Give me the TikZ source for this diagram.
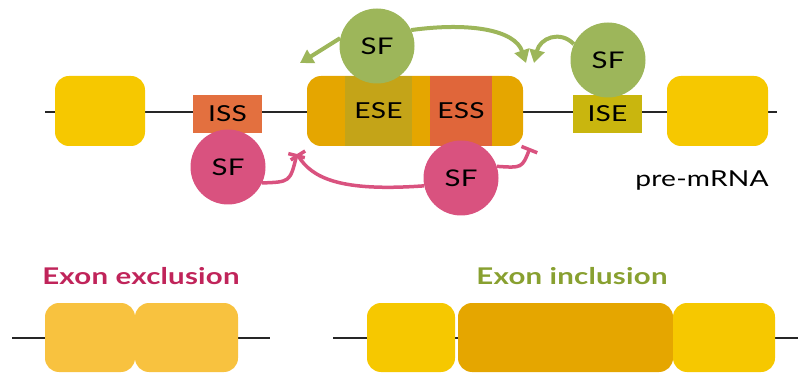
\documentclass[tikz,border=0pt]{standalone}
\usepackage{fontspec}
\setmainfont{Lato}[FakeStretch=1.28,LetterSpace=1]
\usepackage{tikz}
\usetikzlibrary{positioning,arrows.meta,calc}

\definecolor{exonyel}{HTML}{F6C800}
\definecolor{exongold}{HTML}{E5A600}
\definecolor{exonpale}{HTML}{F8C23F}
\definecolor{esecol}{HTML}{C4A418}
\definecolor{esscol}{HTML}{E0663A}
\definecolor{isscol}{HTML}{E3703F}
\definecolor{isecol}{HTML}{C9B60E}
\definecolor{sfgreen}{HTML}{9DB65A}
\definecolor{sfpink}{HTML}{D9527F}
\definecolor{pinklab}{HTML}{C0245A}
\definecolor{greenlab}{HTML}{88A030}

\begin{document}
\begin{tikzpicture}[x=1pt,y=-1pt,
    exon/.style={fill=exonyel, rounded corners=14pt, minimum height=70pt, inner sep=0pt},
    band/.style={minimum height=70pt, inner sep=0pt, font=\fontsize{22}{22}\selectfont},
    site/.style={minimum height=38pt, inner sep=0pt, font=\fontsize{22}{22}\selectfont},
    sf/.style={circle, minimum size=75pt, inner sep=0pt, font=\fontsize{23}{23}\selectfont},
    intron/.style={line width=2.2pt, black!85},
    enh/.style={sfgreen, line width=4pt, -{Triangle[length=13pt,width=15pt]}},
    sil/.style={sfpink, line width=3.5pt, -{Bar[width=17pt,line width=3.5pt]}},
    title/.style={font=\fontsize{23}{23}\selectfont\bfseries}]
\useasboundingbox (0,0) rectangle (798,374);

% pre-mRNA
\draw[intron] (45,112) -- (777,112);
\node[exon, minimum width=90pt] (exA) at (100,111) {};
\node[exon, minimum width=216pt, fill=exongold] (exB) at (415,111) {};
\node[band, minimum width=67pt, fill=esecol] (ese) at (378.5,111) {ESE};
\node[band, minimum width=62pt, fill=esscol] (ess) at (461,111) {ESS};
\node[exon, minimum width=101pt] (exC) at (717.5,111) {};
\node[site, minimum width=69pt, fill=isscol] (iss) at (227.5,114) {ISS};
\node[site, minimum width=69pt, fill=isecol] (ise) at (607.5,114) {ISE};

% splicing factors
\node[sf, fill=sfgreen] (sfT) at (377,46) {SF};
\node[sf, fill=sfgreen] (sfR) at (608,60) {SF};
\node[sf, fill=sfpink] (sfL) at (228,167) {SF};
\node[sf, fill=sfpink] (sfB) at (461,178) {SF};

\coordinate (tipL) at (300,63);
\coordinate (tipM) at (526,63);
\coordinate (tipN) at (534,63);
\coordinate (barL) at (297,154);
\coordinate (barR) at (530,148);

\draw[enh] (sfT.168) .. controls (325,48) .. (tipL);
\draw[enh] (sfT.25) .. controls (470,22) and (515,30) .. (tipM);
\draw[enh] (sfR.155) .. controls (560,30) and (540,38) .. (tipN);
\draw[sil] (sfL.-25) .. controls (290,182) .. (barL);
\draw[sil] (sfB.192) .. controls (340,192) and (312,178) .. (barL);
\draw[sil] (sfB.18) .. controls (522,168) .. (barR);

\node[font=\fontsize{22}{22}\selectfont] (pre) at (702,181) {pre-mRNA};

% exon exclusion
\node[title, text=pinklab] (excl) at (141,276) {Exon exclusion};
\draw[intron] (12,338) -- (270,338);
\node[exon, fill=exonpale, minimum width=90pt, minimum height=69pt] (exX1) at (90,337.5) {};
\node[exon, fill=exonpale, minimum width=103pt, minimum height=69pt] (exX2) at (186.5,337.5) {};

% exon inclusion
\node[title, text=greenlab] (incl) at (572,276) {Exon inclusion};
\draw[intron] (333,338) -- (798,338);
\node[exon, minimum width=88pt, minimum height=69pt] (inA) at (411,337.5) {};
\node[exon, fill=exongold, minimum width=215pt, minimum height=69pt] (inB) at (565.5,337.5) {};
\node[exon, minimum width=102pt, minimum height=69pt] (inC) at (724,337.5) {};
\end{tikzpicture}
\end{document}
